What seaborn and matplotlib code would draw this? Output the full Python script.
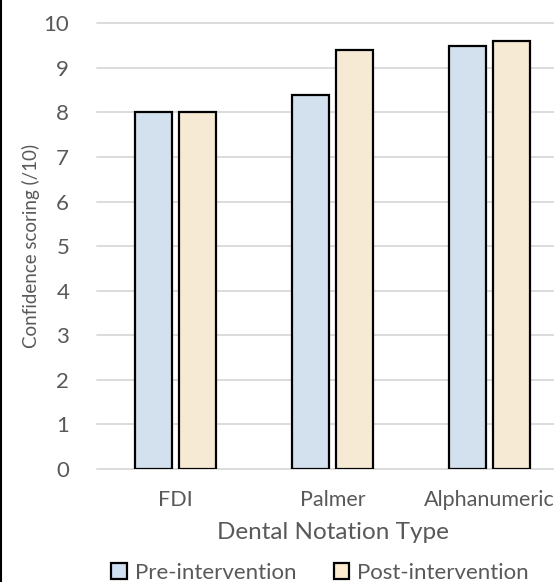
import pandas as pd
import matplotlib
matplotlib.use("Agg")
import matplotlib.pyplot as plt
import seaborn as sns
from matplotlib.lines import Line2D

# --- data ---
notations = ["FDI", "Palmer", "Alphanumeric"]
phases = ["Pre-intervention", "Post-intervention"]
pre_scores = [8.0, 8.4, 9.5]
post_scores = [8.0, 9.4, 9.6]
y_ticks = [0, 1, 2, 3, 4, 5, 6, 7, 8, 9, 10]

colors = ["#CFE0F1", "#FDEBCF"]
text_grey = "#595959"
grid_grey = "#D9D9D9"

df = pd.DataFrame({
    "Notation": notations * 2,
    "Phase": [phases[0]] * 3 + [phases[1]] * 3,
    "Score": pre_scores + post_scores,
})

sns.set_style("white")
plt.rcParams["font.family"] = ["Lato", "DejaVu Sans"]

W, H = 554, 582
fig = plt.figure(figsize=(W / 100, H / 100), dpi=100)
# plot area runs past the right edge, as in the cropped original
ax = fig.add_axes([97 / W, 1 - 469 / H, 471 / W, (469 - 23.3) / H])

sns.barplot(data=df, x="Notation", y="Score", hue="Phase", order=notations,
            hue_order=phases, palette=colors, width=0.56, gap=0.18,
            edgecolor="black", linewidth=1.6, ax=ax, legend=False)

ax.set_xlim(-0.5, 2.5)
ax.set_ylim(0, 10)
ax.set_yticks(y_ticks)
ax.yaxis.grid(True, color=grid_grey, lw=1.3)
ax.set_axisbelow(True)
for gl in ax.get_ygridlines():
    gl.set_clip_on(False)
for s in ax.spines.values():
    s.set_visible(False)

ax.tick_params(axis="y", length=0, pad=20, labelsize=16, labelcolor=text_grey)
ax.tick_params(axis="x", length=0, pad=15, labelsize=15.5, labelcolor=text_grey)

ax.set_xlabel("Dental Notation Type", fontsize=17.5, color=text_grey)
ax.xaxis.set_label_coords(0.5, -0.119)
ax.set_ylabel("Confidence scoring (/10)", fontsize=13.5, color=text_grey)
ax.yaxis.set_label_coords(-0.122, 0.5)

# legend
handles = [plt.Rectangle((0, 0), 1, 1, facecolor=c, edgecolor="black", linewidth=1.6)
           for c in colors]
fig.legend(handles, phases, loc="center", bbox_to_anchor=(320 / W, 1 - 573 / H),
           ncol=2, frameon=False, fontsize=16, labelcolor=text_grey,
           handlelength=0.7, handleheight=0.7, handletextpad=0.35,
           columnspacing=1.7, borderaxespad=0)

# chart border visible on the left edge
fig.add_artist(Line2D([0.002, 0.002], [0, 1], color="black", lw=1.5,
                      transform=fig.transFigure))

fig.savefig("out.png", dpi=100)
